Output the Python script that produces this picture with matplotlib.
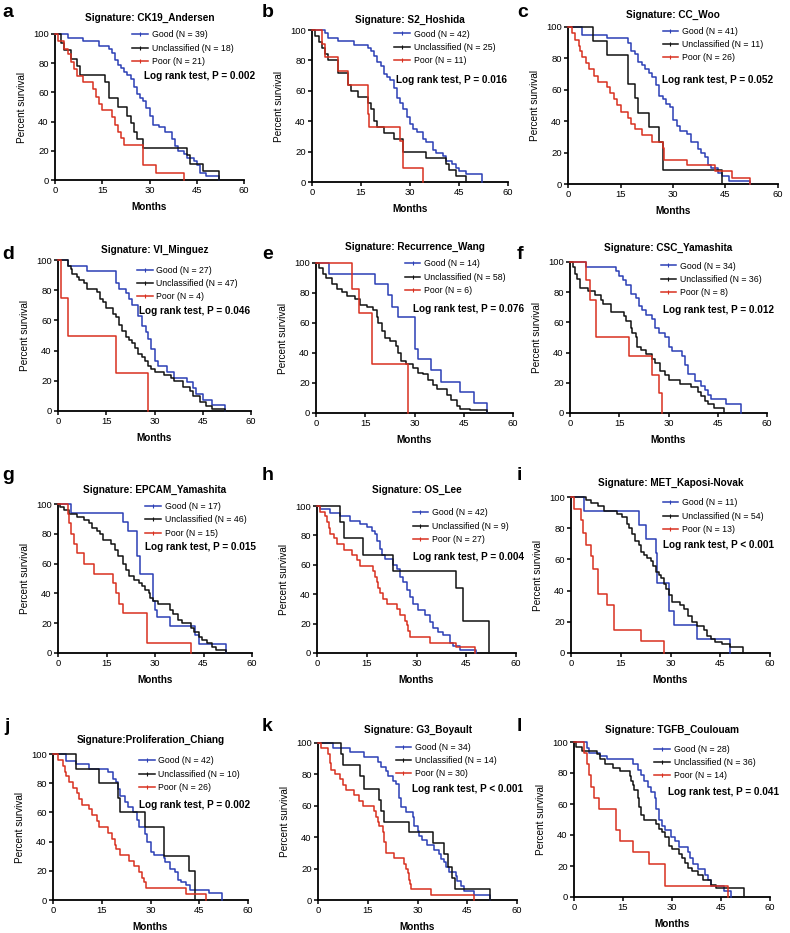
import matplotlib
matplotlib.use("Agg")
import matplotlib.pyplot as plt
from matplotlib.lines import Line2D

plt.rcParams['font.family'] = ['Liberation Sans', 'DejaVu Sans']

# step points of each Kaplan-Meier curve: (months, percent survival)
a_good = [(0,100),(4,97),(9,95),(14,92),(17,90),(18,87),(19,82),(20,79),(21,77),(22,74),(23,72),(24,69),(25,64),(26,59),(27,56),(28,54),(29,49),(30,44),(31,38),(33,36),(35,33),(37,28),(38,23),(39,20),(41,18),(42,15),(44,13),(45,10),(46,5),(48,3),(52,0)]
a_unc = [(0,100),(2,94),(3,89),(5,83),(7,78),(8,72),(16,67),(17,56),(20,50),(23,44),(24,39),(25,33),(26,28),(28,22),(42,17),(43,11),(47,6),(52,0)]
a_poor = [(0,100),(1,95),(3,90),(4,86),(5,81),(6,76),(7,71),(9,67),(12,62),(13,57),(14,52),(15,48),(18,43),(19,38),(20,33),(21,29),(22,24),(28,10),(32,5),(41,0)]

b_good = [(0,100),(4,98),(5,95),(8,93),(13,90),(17,88),(18,86),(19,83),(20,79),(21,76),(22,71),(23,69),(24,67),(25,62),(26,55),(27,52),(28,48),(29,43),(30,38),(31,35),(32,33),(34,28),(35,26),(37,21),(38,19),(40,17),(41,14),(43,12),(44,9),(45,7),(47,5),(52,0)]
b_unc = [(0,100),(1,96),(2,92),(3,88),(4,84),(5,80),(8,72),(11,64),(12,60),(14,56),(17,52),(18,48),(19,40),(20,36),(22,32),(25,28),(28,20),(35,16),(41,12),(42,8),(44,4),(47,0)]
b_poor = [(0,100),(3,91),(4,82),(8,73),(11,64),(17,45),(17.5,36),(27,27),(28,9),(34,0)]

c_good = [(0,100),(4,95),(11,93),(17,90),(18,85),(19,83),(20,78),(21,76),(22,73),(23,71),(24,68),(25,63),(26,56),(27,54),(28,51),(29,49),(30,41),(31,37),(32,34),(34,32),(35,27),(37,22),(38,20),(39,17),(40,12),(41,10),(43,7),(44,5),(46,2),(52,0)]
c_unc = [(0,100),(7,91),(11,82),(17,64),(19,55),(20,45),(23,36),(26,27),(27,9),(44,0)]
c_poor = [(0,100),(1,96),(2,92),(3,88),(3.5,85),(4,81),(5,77),(6,73),(7.5,69),(8.5,65),(11,62),(12,58),(13,54),(14,50),(15,46),(17,42),(18,38),(19,35),(21,31),(24,27),(27,23),(27.5,15),(34,12),(42,8),(47,4),(52,0)]

d_good = [(0,100),(3,96),(9,93),(18,85),(19,81),(21,78),(22,74),(23,70),(25,63),(26,56),(27.5,52),(28,48),(29,41),(30,33),(31,30),(34,26),(36,22),(40,19),(42,15),(43,11),(45,7),(48,4),(52,0)]
d_unc = [(0,100),(3,96),(4,94),(4.5,91),(6,89),(6.5,87),(8,85),(9,81),(12,79),(13,74),(14,72),(15,68),(17,64),(18,62),(19,57),(20,53),(21,49),(22,47),(23,45),(24,42),(25,38),(26,36),(27,33),(28,30),(29,28),(30,26),(33,24),(35,22),(36,20),(39,16),(41,13),(42,10),(44,6),(46,3),(48,1),(52,0)]
d_poor = [(0,100),(1,75),(3,50),(18,25),(28,0)]

e_good = [(0,100),(4,93),(18,86),(22,79),(23,71),(25,64),(30,43),(31,36),(35,29),(38,21),(44,14),(48,7),(52,0)]
e_unc = [(0,100),(1,97),(2,93),(3,90),(5,86),(6.5,83),(8,81),(9.5,78),(12,76),(13.5,72),(15.5,71),(17.5,69),(18.5,64),(19,60),(20,55),(21,50),(22.5,48),(24.5,45),(25,40),(26,35),(27.5,33),(29.5,30),(31,27),(32.5,26),(34,22),(35.5,19),(37,16),(40,12),(41,9),(43,5),(44,3),(47,2),(52,0)]
e_poor = [(0,100),(11,83),(13,67),(17,33),(28,0)]

f_good = [(0,100),(5,97),(14,94),(15,91),(16,88),(17,85),(18.5,79),(20,76),(21,71),(22,68),(23,65),(25,62),(26,56),(27,53),(29,50),(30,44),(31,41),(34,38),(35,32),(36,26),(38,21),(40,18),(41,15),(42,12),(43,9),(47.5,6),(52,0)]
f_unc = [(0,100),(1,97),(1.5,92),(2,89),(3,83),(5.5,81),(7.5,78),(9.5,75),(10,72),(12.5,67),(16.5,64),(17,61),(18.5,56),(19,53),(20,50),(20.5,44),(21.5,42),(23,39),(25,36),(26,33),(27.5,28),(29,25),(30,22),(33.5,19),(37,17),(39,14),(40,11),(41,8),(42,6),(44,3),(47,0)]
f_poor = [(0,100),(5,88),(6,75),(8,50),(18,38),(25,25),(27,13),(28,0)]

g_good = [(0,100),(4,94),(20,88),(21.5,82),(24.5,65),(25.5,53),(29.5,35),(30,29),(30.5,24),(34.5,18),(42.5,12),(43.5,6),(52,0)]
g_unc = [(0,100),(0.5,98),(2,96),(3.5,93),(6,91),(8,89),(9.5,87),(10.5,84),(12,82),(13,80),(14,76),(16.5,73),(17.5,69),(18.5,65),(20,60),(21,56),(22,52),(23.5,49),(25,47),(26,45),(27,42),(28,40),(28.5,37),(29.5,35),(31,33),(34.5,29),(35.5,26),(37,22),(38.5,20),(41,17),(42,14),(43.5,11),(44.5,9),(46,7),(47.5,4),(49,2),(52,0)]
g_poor = [(0,100),(3,93),(3.5,87),(4,80),(5,73),(6,67),(8,60),(11,53),(17,47),(18,40),(19,33),(20,27),(27.5,7),(41,0)]

h_good = [(0,100),(1,98),(4,95),(7,93),(10,90),(13,88),(15,86),(16.5,83),(17.5,81),(18,76),(19,71),(19.5,67),(20.5,64),(23,60),(24,57),(25,52),(26,48),(27,43),(28,38),(29,33),(30.5,29),(32.5,26),(34,21),(35,17),(36.5,14),(38,12),(40,7),(41,5),(43,2),(48,0)]
h_unc = [(0,100),(7,89),(8,78),(14,67),(23,56),(42,44),(44,22),(52,0)]
h_poor = [(0,100),(1,96),(2.5,93),(3,89),(3.5,85),(4,81),(5,78),(6,74),(8,70),(10.5,67),(12,63),(13,59),(17,56),(17.5,52),(18,48),(18.5,44),(19,41),(20,37),(21,33),(24,30),(25,26),(26.5,22),(27,19),(27.5,15),(28,11),(34,7),(42,4),(47.5,0)]

i_good = [(0,100),(4,91),(20.5,82),(22.5,73),(25.5,64),(26,45),(29.5,27),(31,18),(38,9),(48,0)]
i_unc = [(0,100),(4.5,98),(6,96),(8,94),(10,91),(14,89),(15.5,87),(17,83),(17.5,80),(18.5,76),(19.3,72),(20.4,69),(21,65),(22,63),(23,61),(24,59),(24.8,56),(25.7,52),(26.5,50),(27,48),(28,44),(28.5,41),(29.5,37),(30.4,33),(33,31),(34,28),(35.4,24),(36.5,20),(38,17),(40,15),(41,11),(42.2,9),(43.5,7),(45.5,6),(48,4),(52,0)]
i_poor = [(0,100),(1,92),(3,85),(3.5,77),(4.5,69),(6,62),(6.5,54),(8,38),(11,31),(13,15),(21,8),(28,0)]

j_good = [(0,100),(4,95),(7,93),(11,90),(17,88),(18.5,83),(19.5,81),(20,76),(20.6,71),(22,67),(23,64),(24.5,60),(25.7,55),(26.5,50),(28.3,45),(29,40),(30,33),(31,31),(34,29),(34.5,26),(36,21),(37.5,19),(38.6,14),(39.5,12),(41,10),(42,7),(48,5),(52,0)]
j_unc = [(0,100),(7,90),(14,80),(20,70),(20.6,60),(28.3,50),(34,30),(41.7,20),(43.7,0)]
j_poor = [(0,100),(1.5,96),(3,92),(3.8,88),(4,85),(5,81),(6,77),(7.5,73),(8,69),(9,65),(11,62),(12,58),(13.5,54),(14,50),(17,46),(18,42),(19,38),(19.5,35),(20.5,31),(23.5,27),(25,23),(26.5,19),(27.5,15),(28,12),(28.5,8),(41,4),(47,0)]

k_good = [(0,100),(4.5,97),(9.5,94),(14,91),(18,88),(19,85),(20.5,82),(21,79),(22.5,76),(23.5,74),(24.5,65),(25,59),(26.5,56),(28.5,53),(29,47),(30,44),(30.5,41),(31.5,38),(33,35),(35,32),(36.5,29),(37,26),(38,24),(38.5,21),(39.5,18),(41.5,15),(42,12),(43,9),(44,6),(47,3),(52,0)]
k_unc = [(0,100),(7,93),(7.5,86),(12.8,79),(13.8,71),(18.5,64),(19,57),(20,50),(27.3,43),(34.7,36),(37.9,29),(39.2,21),(40.5,14),(41.4,7),(52,0)]
k_poor = [(0,100),(1,97),(3,93),(3.5,87),(4,83),(5,80),(6.5,77),(7.5,73),(8.5,70),(11,67),(12.5,63),(13.5,60),(17,57),(17.5,53),(18,50),(18.5,47),(19.5,43),(20,37),(20.5,30),(23,27),(26,23),(26.5,20),(27,17),(27.5,13),(27.8,10),(28,7),(34,3),(47,0)]

l_good = [(0,100),(4,96),(4.5,93),(8,91),(10,89),(18,86),(19.5,82),(20.5,79),(21.5,75),(22.5,71),(23.5,68),(24.8,64),(25,57),(26,50),(27,46),(28,43),(29.8,39),(31,36),(32,32),(35,29),(35.5,25),(36.5,21),(38,18),(40,14),(41,11),(42,7),(46,4),(48,0)]
l_unc = [(0,100),(0.5,97),(2.5,94),(7,92),(8,89),(9.5,86),(12,83),(14,81),(17,78),(17.5,75),(18,72),(18.5,69),(19.5,64),(20,58),(20.5,53),(21.5,50),(25,47),(26,44),(27,42),(28,39),(29,33),(30,31),(32,28),(33,25),(34,22),(35,19),(36,17),(38,14),(39.5,11),(42,8),(43.5,6),(52,0)]
l_poor = [(0,100),(3,93),(4,86),(4.5,79),(5.3,71),(6,64),(7.5,57),(13,43),(14,36),(18,29),(23,21),(28,7),(47,0)]

panel_letters = ['a', 'b', 'c', 'd', 'e', 'f', 'g', 'h', 'i', 'j', 'k', 'l']
signatures = ['Signature: CK19_Andersen', 'Signature: S2_Hoshida', 'Signature: CC_Woo',
              'Signature: VI_Minguez', 'Signature: Recurrence_Wang', 'Signature: CSC_Yamashita',
              'Signature: EPCAM_Yamashita', 'Signature: OS_Lee', 'Signature: MET_Kaposi-Novak',
              'Signature:Proliferation_Chiang', 'Signature: G3_Boyault', 'Signature: TGFB_Coulouam']
n_good = [39, 42, 41, 27, 14, 34, 17, 42, 11, 42, 34, 28]
n_unc = [18, 25, 11, 47, 58, 36, 46, 9, 54, 10, 14, 36]
n_poor = [21, 11, 26, 4, 6, 8, 15, 27, 13, 26, 30, 14]
p_text = ['P = 0.002', 'P = 0.016', 'P = 0.052', 'P = 0.046', 'P = 0.076', 'P = 0.012',
          'P = 0.015', 'P = 0.004', 'P < 0.001', 'P = 0.002', 'P < 0.001', 'P = 0.041']
curves_good = [a_good, b_good, c_good, d_good, e_good, f_good, g_good, h_good, i_good, j_good, k_good, l_good]
curves_unc = [a_unc, b_unc, c_unc, d_unc, e_unc, f_unc, g_unc, h_unc, i_unc, j_unc, k_unc, l_unc]
curves_poor = [a_poor, b_poor, c_poor, d_poor, e_poor, f_poor, g_poor, h_poor, i_poor, j_poor, k_poor, l_poor]

# layout in pixels: axes box (left, top, right, bottom), title centre y
W, H = 790, 933
boxes = [(55, 34, 244, 180), (312, 30, 508, 182), (568, 27, 778, 184),
         (58, 260, 251, 411), (316, 263, 513, 413), (570, 262, 767, 413),
         (58, 504, 252, 653), (317, 506, 516, 653), (571, 497, 770, 653),
         (53, 754, 248, 900), (318, 743, 517, 900), (574, 742, 770, 897)]
title_y = [18, 20, 15, 250, 247, 248, 490, 490, 483, 740, 730, 730]
letter_xy = [(2, 17), (262, 17), (517, 17), (2, 259), (262, 259), (517, 259),
             (2, 480), (262, 480), (517, 480), (4, 731), (262, 731), (517, 731)]
legend_xy = [(0.41, 0.99), (0.42, 0.97), (0.45, 0.97), (0.41, 0.93), (0.45, 0.99), (0.46, 0.97),
             (0.45, 0.98), (0.48, 0.95), (0.46, 0.96), (0.44, 0.95), (0.39, 0.97), (0.41, 0.95)]
logrank_xy = [(0.47, 0.71), (0.43, 0.67), (0.45, 0.66), (0.42, 0.66), (0.49, 0.69), (0.47, 0.68),
              (0.45, 0.71), (0.48, 0.65), (0.46, 0.69), (0.44, 0.65), (0.47, 0.71), (0.48, 0.68)]

BLUE = '#2b3fb5'
RED = '#d8301f'
BLACK = '#111111'

fig = plt.figure(figsize=(W / 100, H / 100), dpi=100)

for k in range(12):
    l, t, r, b = boxes[k]
    ax = fig.add_axes([l / W, 1 - b / H, (r - l) / W, (b - t) / H])
    h_px = b - t

    handles = []
    for curve, col, lab in [(curves_good[k], BLUE, f'Good (N = {n_good[k]})'),
                            (curves_unc[k], BLACK, f'Unclassified (N = {n_unc[k]})'),
                            (curves_poor[k], RED, f'Poor (N = {n_poor[k]})')]:
        xs = [p[0] for p in curve]
        ys = [p[1] for p in curve]
        ax.step(xs, ys, where='post', color=col, lw=1.1, clip_on=False, zorder=3)
        handles.append(Line2D([], [], color=col, lw=1.1, marker='|', markersize=3,
                              markeredgewidth=0.8, label=lab))

    ax.set_xlim(0, 60)
    ax.set_ylim(0, 100)
    ax.set_xticks([0, 15, 30, 45, 60])
    ax.set_yticks([0, 20, 40, 60, 80, 100])
    for s in ['top', 'right']:
        ax.spines[s].set_visible(False)
    for s in ['left', 'bottom']:
        ax.spines[s].set_linewidth(1.3)
    ax.tick_params(direction='out', length=3, width=1.1, labelsize=6.8, pad=1.5)
    ax.set_ylabel('Percent survival', fontsize=7.2, labelpad=4)
    ax.set_xlabel('Months', fontsize=7.2, fontweight='bold', labelpad=5)

    ax.text(0.5, 1 + (t - title_y[k]) / h_px, signatures[k], transform=ax.transAxes,
            ha='center', va='center', fontsize=7.2, fontweight='bold')

    lx, ly = legend_xy[k]
    ax.legend(handles=handles, loc='upper left', bbox_to_anchor=(lx, ly + 5 / h_px),
              frameon=False, fontsize=6.3, handlelength=1.8, handletextpad=0.4,
              labelspacing=0.5, borderpad=0, borderaxespad=0)

    px, py = logrank_xy[k]
    ax.text(px, py, 'Log rank test, ' + p_text[k], transform=ax.transAxes,
            ha='left', va='center', fontsize=7.2, fontweight='bold', clip_on=False, zorder=5)

    fx, fy = letter_xy[k]
    fig.text(fx / W, 1 - fy / H, panel_letters[k], fontsize=14, fontweight='bold',
             ha='left', va='baseline')

fig.savefig('out.png', dpi=100)
